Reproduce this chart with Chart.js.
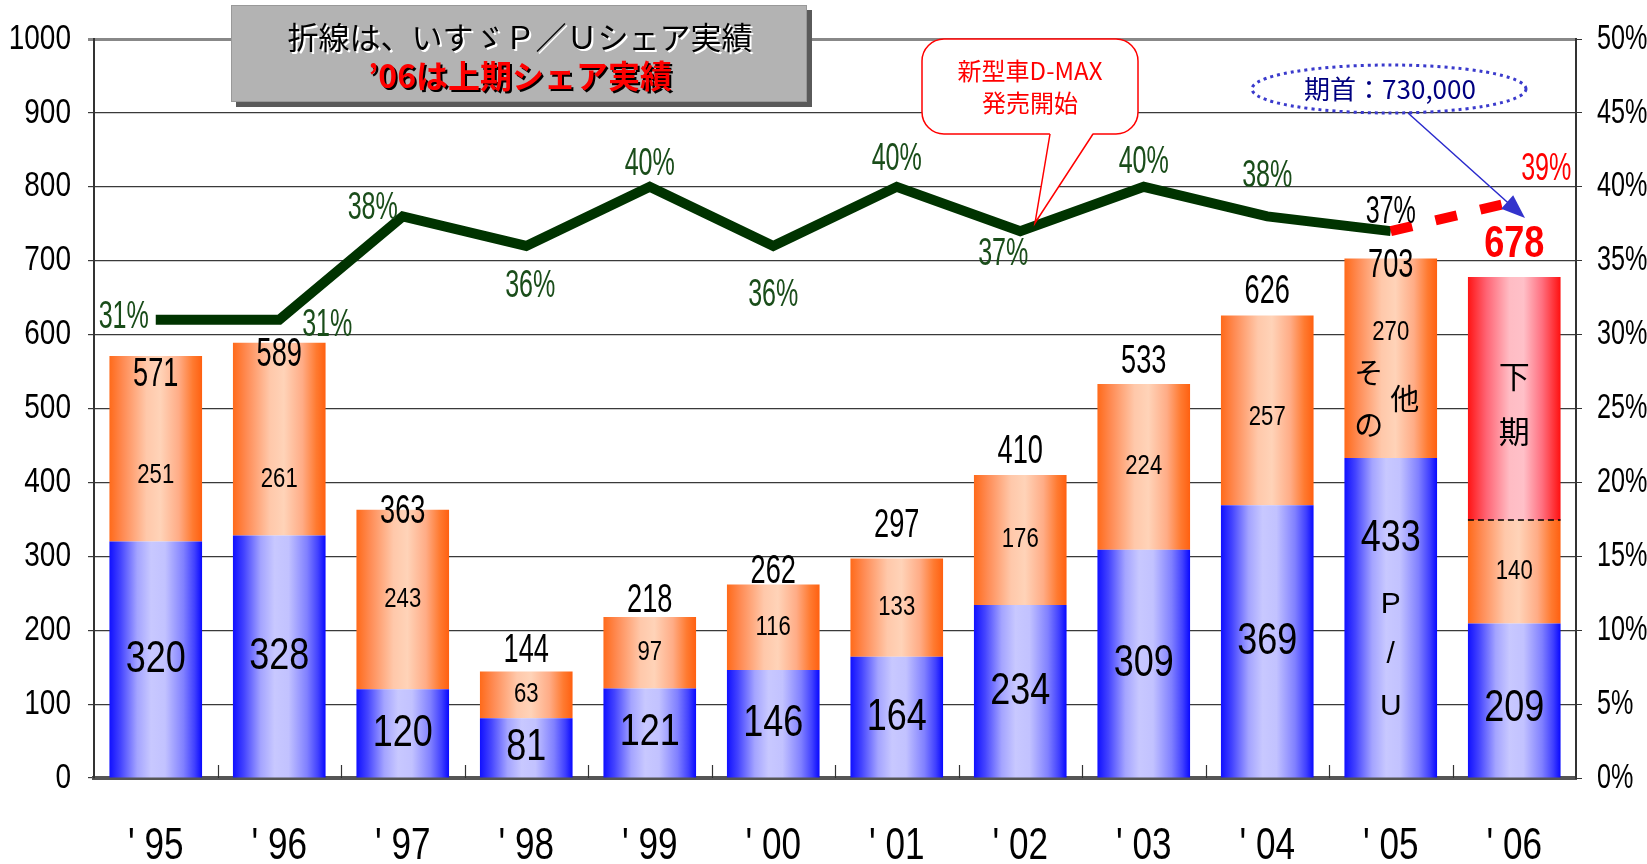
<!DOCTYPE html>
<html>
<head>
<meta charset="utf-8">
<script src="https://cdn.jsdelivr.net/npm/chart.js@4.4.0/dist/chart.umd.min.js"></script>
<style>
  html, body { margin: 0; padding: 0; background: #fff; }
  #wrap { width: 1647px; height: 864px; position: relative; }
</style>
</head>
<body>
<div id="wrap"><canvas id="chart"></canvas></div>
<script>
// data (units: thousand vehicles / share %)
const years = ["'95", "'96", "'97", "'98", "'99", "'00", "'01", "'02", "'03", "'04", "'05", "'06"];
const puUnits = [320, 328, 120, 81, 121, 146, 164, 234, 309, 369, 433, 209];
const otherUnits = [251, 261, 243, 63, 97, 116, 133, 176, 224, 257, 270, 140];
const secondHalfUnits = [null, null, null, null, null, null, null, null, null, null, null, 329];
const totals = [571, 589, 363, 144, 218, 262, 297, 410, 533, 626, 703, 678];
const puShare = [31, 31, 38, 36, 40, 36, 40, 37, 40, 38, 37, 39];

// label placement (pixels, relative to the mark)
const totalDy = [19, 12, 2, -21, -16, -12, -33, -23, -22, -23, 7, -32];
const otherDy = [27, 40, 0, 0, 0, 0, 0, 0, 0, 7, -26, 0];
const puDy = [0, 0, 0, 0, 0, 0, 0, 0, 0, 0, -79, 8];
const shareOffset = [[-32, -2], [48, 6], [-30, -8], [4, 41], [0, -22], [0, 50], [0, -27], [-17, 23], [0, -24], [0, -40], [0, -19], [32, -32]];

// Arial-like face squeezed horizontally to look like the narrow face of the original
const SANS = '"Liberation Sans", Arial, sans-serif';
const JP = '"Noto Sans CJK JP", "Noto Sans", sans-serif';

const blueStops = [[0, '#1010ff'], [0.12, '#4444ff'], [0.3, '#a4a4ff'], [0.45, '#c8c8ff'], [0.6, '#c2c2ff'], [0.8, '#8080ff'], [0.92, '#4040ff'], [1, '#0808ff']];
const orangeStops = [[0, '#ff6a1a'], [0.15, '#ff8c55'], [0.4, '#ffc8aa'], [0.55, '#ffd3b8'], [0.75, '#ffac86'], [0.9, '#ff7a30'], [1, '#ff6010']];
const redStops = [[0, '#ff1414'], [0.2, '#ff6474'], [0.45, '#ffbcc4'], [0.6, '#ffc0c8'], [0.8, '#ff7080'], [1, '#ff1010']];

function barGradient(stops) {
    return function (ctx) {
        const chart = ctx.chart;
        const xs = chart.scales.x;
        if (!chart.chartArea || !xs || ctx.dataIndex === undefined) return stops[0][1];
        const cx = xs.getPixelForValue(ctx.dataIndex);
        const w = (xs.width / years.length) * 0.75;
        const g = chart.ctx.createLinearGradient(cx - w / 2, 0, cx + w / 2, 0);
        stops.forEach(s => g.addColorStop(s[0], s[1]));
        return g;
    };
}

function txt(c, s, x, y, size, color, opts = {}) {
    c.save();
    c.font = (opts.bold ? 'bold ' : '') + size + 'px ' + (opts.family || SANS);
    c.fillStyle = color;
    c.textAlign = opts.align || 'center';
    c.textBaseline = 'middle';
    c.translate(x, y);
    c.scale(opts.sx || 1, 1);
    if (opts.shadow) {
        c.shadowColor = opts.shadow;
        c.shadowOffsetX = 2;
        c.shadowOffsetY = 2;
    }
    c.fillText(s, 0, 0);
    c.restore();
}

const axisLabels = {
    id: 'axisLabels',
    afterDraw(chart) {
        const c = chart.ctx;
        const { x, y, y1 } = chart.scales;
        y.ticks.forEach(t => {
            txt(c, String(t.value), 71, y.getPixelForValue(t.value), 35, '#000', { align: 'right', sx: 0.8 });
        });
        y1.ticks.forEach(t => {
            txt(c, t.value + '%', 1597, y1.getPixelForValue(t.value), 35, '#000', { align: 'left', sx: 0.72 });
        });
        years.forEach((lab, i) => {
            txt(c, lab.replace("'", "' "), x.getPixelForValue(i), 847, 45, '#000', { sx: 0.78 });
        });
    }
};

const barLabels = {
    id: 'barLabels',
    afterDatasetsDraw(chart) {
        const c = chart.ctx;
        const blue = chart.getDatasetMeta(1).data;
        const orange = chart.getDatasetMeta(2).data;
        const red = chart.getDatasetMeta(3).data;
        const line = chart.getDatasetMeta(0).data;

        years.forEach((y, i) => {
            const b = blue[i], o = orange[i];
            txt(c, String(puUnits[i]), b.x, (b.y + b.base) / 2 + puDy[i], 45, '#000', { sx: 0.8 });
            txt(c, String(otherUnits[i]), o.x, (o.y + o.base) / 2 + otherDy[i], 27, '#000', { sx: 0.82 });
            const top = i === 11 ? red[i].y : o.y;
            if (i === 11) {
                txt(c, String(totals[i]), o.x, top + totalDy[i], 44, '#ff0000', { bold: true, sx: 0.82 });
            } else {
                txt(c, String(totals[i]), o.x, top + totalDy[i], 40, '#000', { sx: 0.68 });
            }
        });

        // '06: dashed split between first half and second half
        const r = red[11];
        c.save();
        c.strokeStyle = '#000';
        c.lineWidth = 1.5;
        c.setLineDash([6, 4]);
        c.beginPath();
        c.moveTo(r.x - r.width / 2, r.base);
        c.lineTo(r.x + r.width / 2, r.base);
        c.stroke();
        c.restore();
        txt(c, '下', r.x, 376, 31, '#000', { family: JP });
        txt(c, '期', r.x, 431, 31, '#000', { family: JP });

        // '05 captions
        const b5 = blue[10];
        txt(c, 'そ', b5.x - 22, 373, 29, '#000', { family: JP });
        txt(c, 'の', b5.x - 22, 425, 29, '#000', { family: JP });
        txt(c, '他', b5.x + 14, 399, 29, '#000', { family: JP });
        txt(c, 'P', b5.x, 605, 30, '#000');
        txt(c, '/', b5.x, 655, 30, '#000');
        txt(c, 'U', b5.x, 707, 30, '#000');

        // share labels
        line.forEach((p, i) => {
            const color = i === 11 ? '#ff0000' : (i === 10 ? '#000' : '#1a4d1a');
            txt(c, puShare[i] + '%', p.x + shareOffset[i][0], p.y + shareOffset[i][1], 38, color, { sx: 0.66 });
        });

        // small ticks between categories
        const xs = chart.scales.x;
        const bottom = chart.chartArea.bottom;
        c.save();
        c.strokeStyle = '#333';
        c.lineWidth = 1.2;
        for (let k = 1; k < years.length; k++) {
            const x = Math.round(xs.left + k * xs.width / years.length) + 0.5;
            c.beginPath();
            c.moveTo(x, bottom);
            c.lineTo(x, bottom - 13);
            c.stroke();
        }
        c.restore();
    }
};

const notes = {
    id: 'notes',
    afterDraw(chart) {
        const c = chart.ctx;

        // title box with shadow
        c.save();
        c.fillStyle = '#5a5a5a';
        c.fillRect(236, 10, 576, 97);
        c.fillStyle = '#b3b3b3';
        c.fillRect(231, 5, 576, 97);
        c.strokeStyle = '#999';
        c.lineWidth = 1;
        c.strokeRect(231.5, 5.5, 575, 96);
        c.restore();
        txt(c, '折線は、いすゞＰ／Ｕシェア実績', 520, 37, 31, '#000', { family: JP, shadow: '#ffffff' });
        txt(c, '’06は上期シェア実績', 520, 76, 32, '#ff0000', { family: JP, bold: true, shadow: '#000000' });

        // D-MAX callout
        c.save();
        c.fillStyle = '#fff';
        c.strokeStyle = '#ff0000';
        c.lineWidth = 1.5;
        c.beginPath();
        c.roundRect(922, 39, 216, 95, 22);
        c.fill();
        c.stroke();
        c.beginPath();
        c.moveTo(1050, 133);
        c.lineTo(1035, 223);
        c.lineTo(1093, 133);
        c.closePath();
        c.fill();
        c.beginPath();
        c.moveTo(1050, 134);
        c.lineTo(1035, 223);
        c.lineTo(1093, 134);
        c.stroke();
        c.restore();
        txt(c, '新型車D-MAX', 1030, 71, 24, '#ff0000', { family: JP });
        txt(c, '発売開始', 1030, 103, 24, '#ff0000', { family: JP });

        // forecast ellipse and arrow
        c.save();
        c.strokeStyle = '#3a3acc';
        c.lineWidth = 3;
        c.setLineDash([3, 4]);
        c.beginPath();
        c.ellipse(1389, 89, 137, 24, 0, 0, Math.PI * 2);
        c.stroke();
        c.setLineDash([]);
        c.strokeStyle = '#2a2acc';
        c.lineWidth = 1.5;
        const x1 = 1408, y1 = 113, x2 = 1525, y2 = 218;
        const a = Math.atan2(y2 - y1, x2 - x1);
        c.beginPath();
        c.moveTo(x1, y1);
        c.lineTo(x2 - 18 * Math.cos(a), y2 - 18 * Math.sin(a));
        c.stroke();
        c.fillStyle = '#3333cc';
        c.beginPath();
        c.moveTo(x2, y2);
        c.lineTo(x2 - 24 * Math.cos(a) + 9 * Math.sin(a), y2 - 24 * Math.sin(a) - 9 * Math.cos(a));
        c.lineTo(x2 - 24 * Math.cos(a) - 9 * Math.sin(a), y2 - 24 * Math.sin(a) + 9 * Math.cos(a));
        c.closePath();
        c.fill();
        c.restore();
        txt(c, '期首：730,000', 1390, 89, 26, '#000080', { family: JP });
    }
};

new Chart(document.getElementById('chart'), {
    type: 'bar',
    data: {
        labels: years,
        datasets: [
            {
                type: 'line',
                label: 'P/U share',
                data: puShare,
                yAxisID: 'y1',
                order: 0,
                borderColor: '#003300',
                borderWidth: 10,
                borderJoinStyle: 'miter',
                borderCapStyle: 'butt',
                pointRadius: 0,
                tension: 0,
                segment: {
                    borderColor: ctx => ctx.p1DataIndex === 11 ? '#ff0000' : undefined,
                    borderDash: ctx => ctx.p1DataIndex === 11 ? [22, 24] : undefined
                }
            },
            {
                label: 'P/U',
                data: puUnits,
                stack: 's',
                order: 1,
                backgroundColor: barGradient(blueStops),
                barPercentage: 0.75,
                categoryPercentage: 1
            },
            {
                label: 'その他',
                data: otherUnits,
                stack: 's',
                order: 1,
                backgroundColor: barGradient(orangeStops),
                barPercentage: 0.75,
                categoryPercentage: 1
            },
            {
                label: '下期',
                data: secondHalfUnits,
                stack: 's',
                order: 1,
                backgroundColor: barGradient(redStops),
                barPercentage: 0.75,
                categoryPercentage: 1
            }
        ]
    },
    options: {
        responsive: true,
        maintainAspectRatio: false,
        animation: false,
        layout: { padding: { top: 39, left: 0, right: 0, bottom: 0 } },
        plugins: {
            legend: { display: false },
            tooltip: { enabled: false }
        },
        scales: {
            x: {
                stacked: true,
                grid: { display: false },
                border: { display: true, color: '#555', width: 4 },
                ticks: { display: false },
                afterFit: s => { s.height = 86; }
            },
            y: {
                stacked: true,
                min: 0,
                max: 1000,
                ticks: { display: false, stepSize: 100 },
                grid: {
                    color: ctx => ctx.tick && ctx.tick.value === 1000 ? '#888' : '#3a3a3a',
                    lineWidth: ctx => ctx.tick && ctx.tick.value === 1000 ? 3 : 1.2,
                    tickLength: 6
                },
                border: { color: '#333', width: 2 },
                afterFit: s => { s.width = 94; }
            },
            y1: {
                position: 'right',
                min: 0,
                max: 50,
                ticks: { display: false, stepSize: 5 },
                grid: { drawOnChartArea: false, color: '#333', tickLength: 6 },
                border: { color: '#333', width: 2 },
                afterFit: s => { s.width = 71; }
            }
        }
    },
    plugins: [barLabels, axisLabels, notes]
});
</script>
</body>
</html>
